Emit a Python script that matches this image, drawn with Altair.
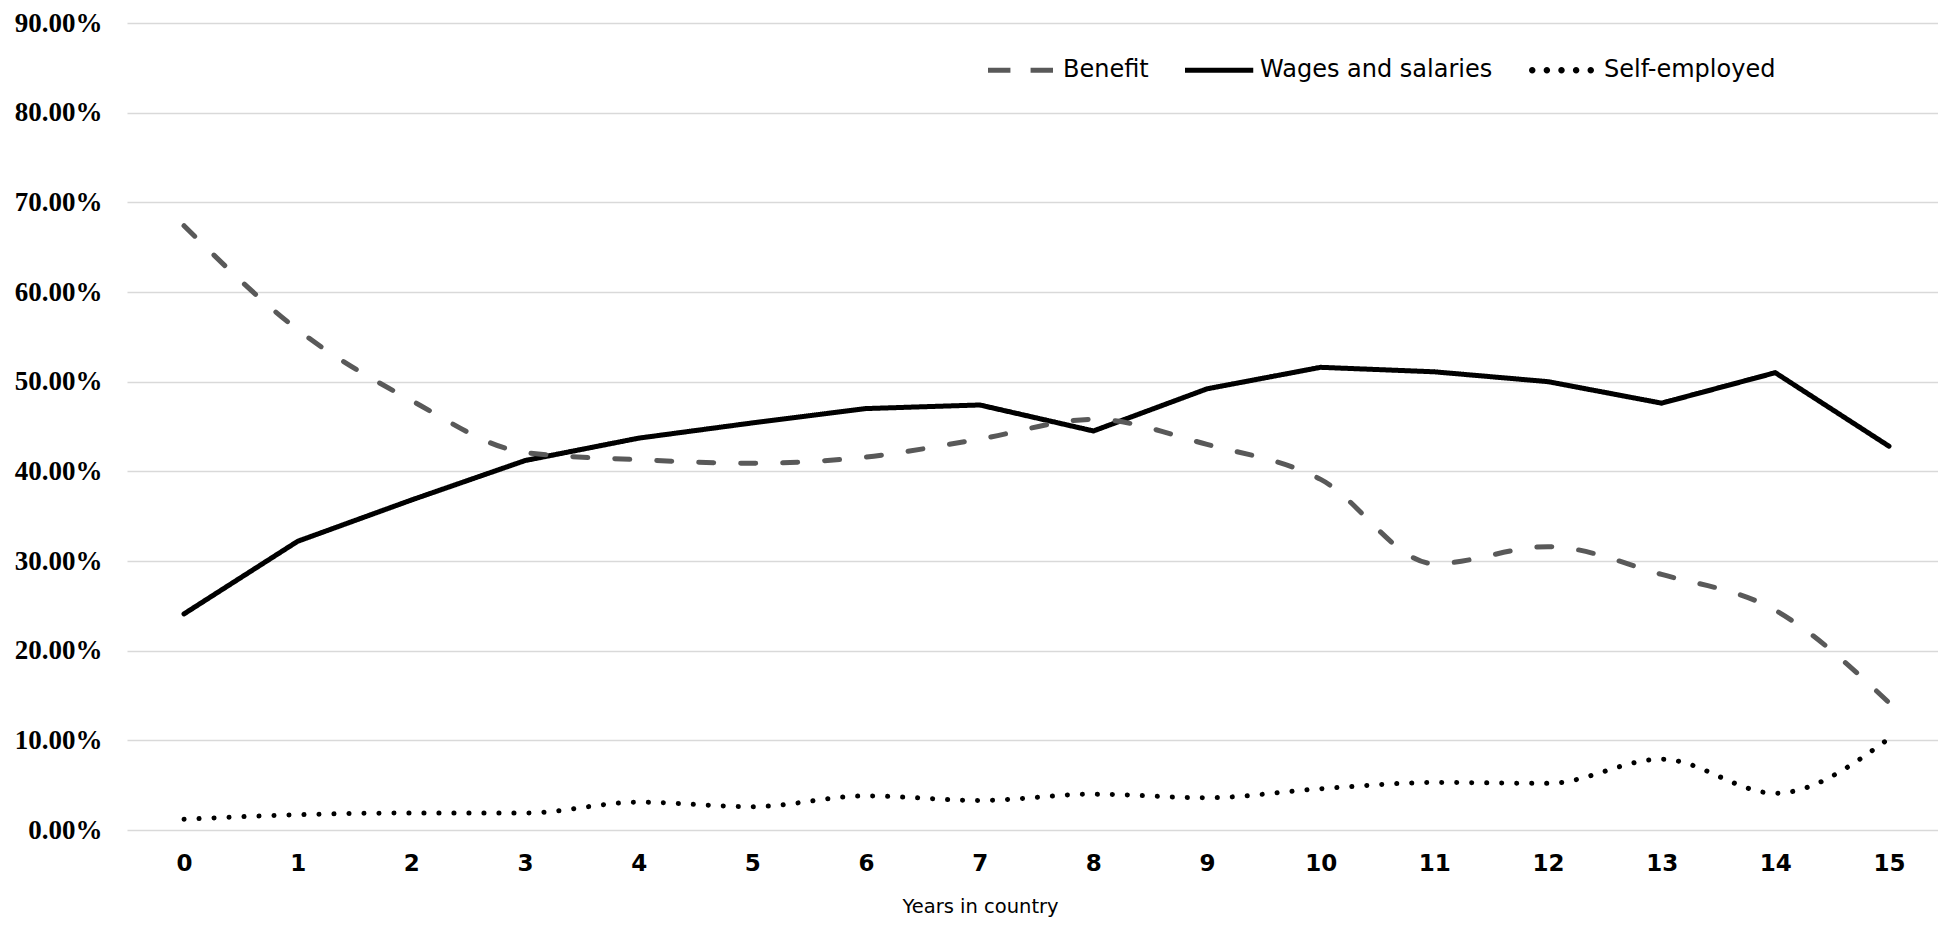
import altair as alt
import pandas as pd

years = list(range(16))
benefit = [67.4, 55.8, 47.9, 42.1, 41.3, 40.9, 41.6, 43.6, 45.8, 43.0, 39.1, 29.7, 31.6, 28.5, 24.5, 14.2]
wages = [24.1, 32.2, 36.8, 41.2, 43.7, 45.4, 47.0, 47.4, 44.5, 49.2, 51.6, 51.1, 50.0, 47.6, 51.0, 42.8]
self_employed = [1.2, 1.7, 1.9, 1.9, 3.1, 2.6, 3.8, 3.3, 4.0, 3.6, 4.6, 5.3, 5.2, 7.9, 4.1, 10.2]
series_names = ["Benefit", "Wages and salaries", "Self-employed"]
series_colors = ["#595959", "#000000", "#000000"]
series_dashes = [[15, 27], [1, 0], [0.1, 14.9]]
series_interp = ["monotone", "linear", "monotone"]
y_ticks = [0, 0.1, 0.2, 0.3, 0.4, 0.5, 0.6, 0.7, 0.8, 0.9]

rows = []
for name, vals in zip(series_names, [benefit, wages, self_employed]):
    for yr, v in zip(years, vals):
        rows.append({"year": yr, "share": v / 100.0, "series": name})
df = pd.DataFrame(rows)

SANS = "DejaVu Sans"
SERIF = "Liberation Serif"

# legend glyphs (unit box -1..1 spans the symbol length)
h = 0.08
dash_path = f"M-1,-{h}H-0.31V{h}H-1Z M0.31,-{h}H1V{h}H0.31Z"
solid_path = f"M-1,-{h}H1.1V{h}H-1Z"


def circ(cx, r=0.1):
    return f"M{cx - r:.3f},0A{r},{r} 0 1,0 {cx + r:.3f},0A{r},{r} 0 1,0 {cx - r:.3f},0Z"


dot_path = " ".join(circ(c) for c in [-0.9, -0.45, 0.0, 0.45, 0.9])
legend_paths = [dash_path, solid_path, dot_path]

x = alt.X(
    "year:Q",
    scale=alt.Scale(domain=[-0.5015, 15.431], nice=False, zero=False),
    axis=alt.Axis(
        values=years, format="d", grid=False, domain=False, ticks=False, tickSize=0,
        labelFont=SANS, labelFontSize=23, labelFontWeight="bold", labelColor="#000000",
        labelPadding=33, labelBaseline="middle", labelFlush=False,
        title="Years in country", titleFont=SANS, titleFontSize=19.5, titleFontWeight="normal",
        titleColor="#000000", titleX=853, titleY=76, titleBaseline="middle", titleAlign="center",
    ),
)
y = alt.Y(
    "share:Q",
    scale=alt.Scale(domain=[0, 0.9], nice=False),
    axis=alt.Axis(
        values=y_ticks, format=".2%", grid=True, gridColor="#d9d9d9", gridWidth=1.5,
        domain=False, ticks=False, tickSize=0,
        labelFont=SERIF, labelFontSize=27, labelFontWeight="bold", labelColor="#000000",
        labelPadding=25, title=None,
    ),
)

line_layers = []
for name, col, dsh, interp in zip(series_names, series_colors, series_dashes, series_interp):
    line_layers.append(
        alt.Chart(df).transform_filter(alt.FieldEqualPredicate(field="series", equal=name)).mark_line(
            interpolate=interp, strokeWidth=5, strokeCap="round", strokeJoin="round",
            color=col, strokeDash=dsh,
        ).encode(x=x, y=y)
    )

leg = alt.Legend(
    title=None, orient="none", legendX=861, legendY=14.5, direction="horizontal",
    symbolSize=4225, symbolStrokeWidth=0, symbolOpacity=1,
    labelFont=SANS, labelFontSize=24, labelColor="#000000", labelLimit=400,
    labelOffset=10, columnPadding=36, padding=0,
)
legend_layer = alt.Chart(df).transform_filter("datum.year < -1").mark_point(
    filled=True, opacity=1, strokeWidth=0
).encode(
    x=x, y=y,
    color=alt.Color("series:N", scale=alt.Scale(domain=series_names, range=series_colors), legend=leg),
    shape=alt.Shape("series:N", scale=alt.Scale(domain=series_names, range=legend_paths), legend=leg),
)

chart = alt.layer(line_layers[1], line_layers[0], line_layers[2], legend_layer).properties(
    width=1811,
    height=807,
    autosize=alt.AutoSizeParams(type="none"),
    padding={"left": 119, "top": 15, "right": 0, "bottom": 87},
    background="#ffffff",
).configure_view(stroke=None)

chart.save("out.html", embed_options={"renderer": "svg", "actions": False})
